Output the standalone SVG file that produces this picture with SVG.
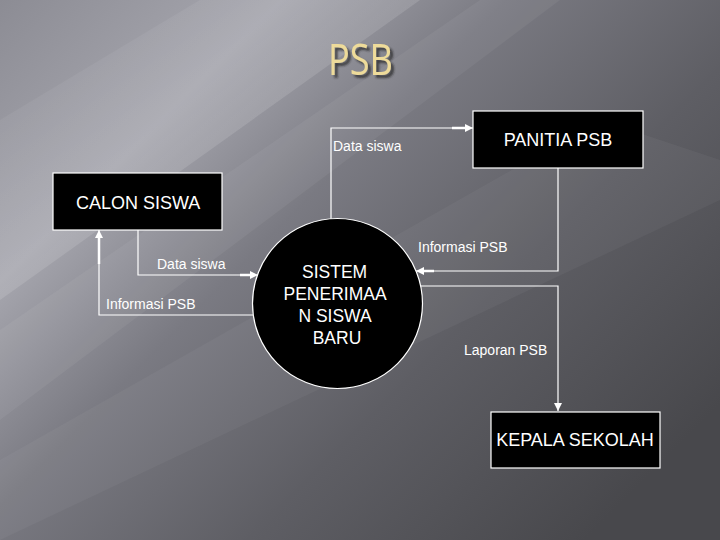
<svg xmlns="http://www.w3.org/2000/svg" width="720" height="540" viewBox="0 0 720 540">
<defs>
<linearGradient id="bg" x1="0" y1="0" x2="1" y2="0.75">
<stop offset="0" stop-color="#8c8c94"/>
<stop offset="0.25" stop-color="#a6a6ae"/>
<stop offset="0.45" stop-color="#7a7a82"/>
<stop offset="0.7" stop-color="#5e5e64"/>
<stop offset="1" stop-color="#48484c"/>
</linearGradient>
<linearGradient id="streak" x1="0" y1="0" x2="1" y2="1">
<stop offset="0" stop-color="#ffffff" stop-opacity="0"/>
<stop offset="0.5" stop-color="#ffffff" stop-opacity="0.12"/>
<stop offset="1" stop-color="#ffffff" stop-opacity="0"/>
</linearGradient>
<marker id="ah" viewBox="0 0 10 10" refX="10" refY="5" markerWidth="8" markerHeight="8" markerUnits="userSpaceOnUse" orient="auto">
<path d="M0,0 L10,5 L0,10 z" fill="#ffffff"/>
</marker>
<filter id="sh" x="-20%" y="-20%" width="150%" height="150%">
<feGaussianBlur in="SourceAlpha" stdDeviation="1"/>
<feOffset dx="3" dy="3" result="b"/>
<feFlood flood-color="#1e1e1e" flood-opacity="0.7"/>
<feComposite in2="b" operator="in"/>
<feMerge><feMergeNode/><feMergeNode in="SourceGraphic"/></feMerge>
</filter>
</defs>
<style>
.box{fill:#000;stroke:#fff;stroke-width:1.2}
.lbl{font-family:"Liberation Sans",Arial,sans-serif;fill:#fff}
.nt{font-size:18px}
.ft{font-size:14px}
.ln{fill:none;stroke:#fff;stroke-width:1.2;marker-end:url(#ah)}
.tip{stroke:#fff;stroke-width:2.5}
</style>
<rect width="720" height="540" fill="url(#bg)"/>
<polygon points="0,120 200,0 420,0 0,300" fill="url(#streak)"/>
<polygon points="0,330 480,0 560,0 0,420" fill="#ffffff" opacity="0.05"/>
<polygon points="0,460 600,120 720,160 720,200 0,540" fill="#ffffff" opacity="0.04"/>
<g id="title">
<text x="328" y="75" textLength="65" lengthAdjust="spacingAndGlyphs" font-family="'Open Sans','Liberation Sans',sans-serif" font-size="44" fill="#eedb9a" filter="url(#sh)">PSB</text>
</g>
<g id="connectors">
<path class="ln" d="M331,219 V128 H473"/>
<line class="tip" x1="452" y1="128" x2="466" y2="128"/>
<path class="ln" d="M558,168 V271 H416"/>
<line class="tip" x1="423" y1="271" x2="434" y2="271"/>
<path class="ln" d="M421,286 H558 V411"/>
<path class="ln" d="M138,230 V275 H258"/>
<line class="tip" x1="240" y1="275" x2="252" y2="275"/>
<path class="ln" d="M254,315 H99 V230"/>
<line class="tip" x1="99" y1="238" x2="99" y2="264"/>
<text class="lbl ft" x="333" y="151">Data siswa</text>
<text class="lbl ft" x="418" y="252">Informasi PSB</text>
<text class="lbl ft" x="464" y="355">Laporan PSB</text>
<text class="lbl ft" x="157" y="269">Data siswa</text>
<text class="lbl ft" x="106" y="309">Informasi PSB</text>
</g>
<g id="panitia">
<rect class="box" x="473" y="111" width="170" height="57"/>
<text class="lbl nt" x="558" y="146" text-anchor="middle">PANITIA PSB</text>
</g>
<g id="calon">
<rect class="box" x="53" y="173" width="169" height="57"/>
<text class="lbl nt" x="76" y="209">CALON SISWA</text>
</g>
<g id="kepala">
<rect class="box" x="491" y="412" width="169" height="56"/>
<text class="lbl nt" x="575" y="446" text-anchor="middle">KEPALA SEKOLAH</text>
</g>
<g id="sistem">
<circle cx="337.5" cy="303.5" r="85" fill="#000" stroke="#fff" stroke-width="1.2"/>
<text class="lbl" font-size="17.5" text-anchor="middle" x="337">
<tspan x="337" y="278">SISTEM</tspan>
<tspan x="337" y="300">PENERIMAA</tspan>
<tspan x="337" y="322">N SISWA</tspan>
<tspan x="337" y="344">BARU</tspan>
</text>
</g>
</svg>
